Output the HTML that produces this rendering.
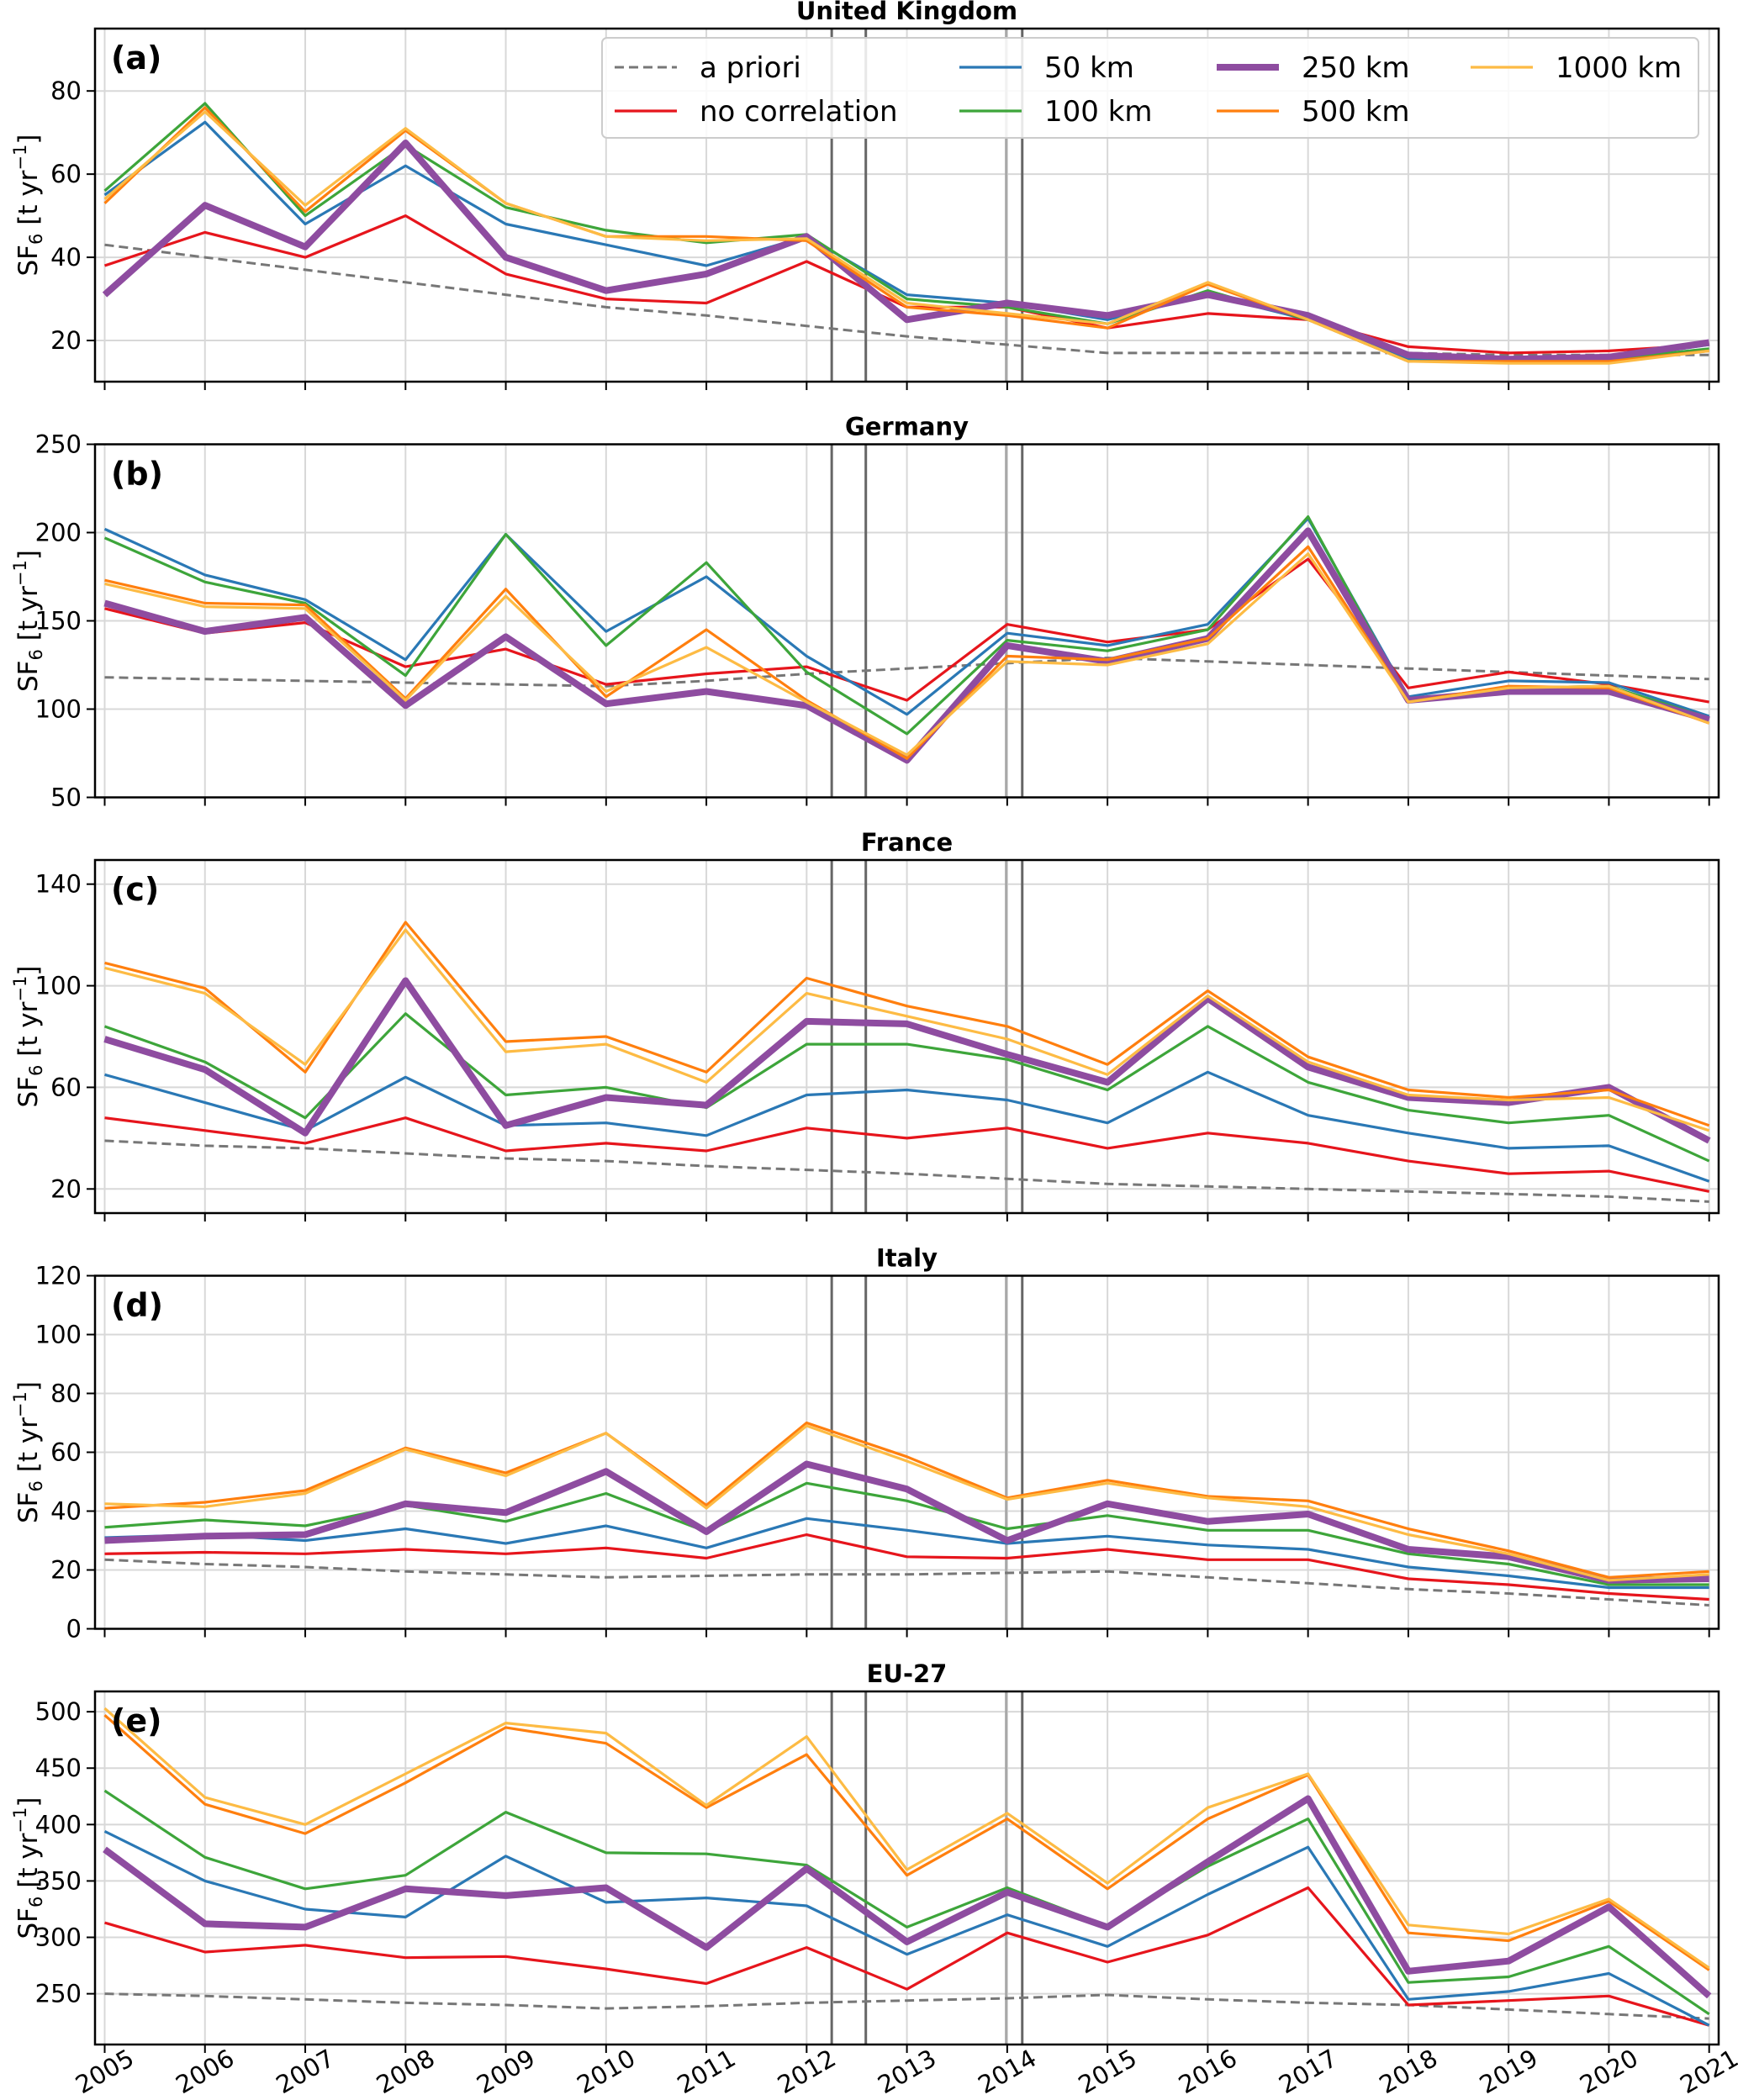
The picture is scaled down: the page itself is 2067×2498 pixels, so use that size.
<!DOCTYPE html>
<html><head><meta charset="utf-8">
<style>
html,body{margin:0;padding:0;background:#fff;}
svg{display:block;font-family:"DejaVu Sans","Liberation Sans",sans-serif;}
</style></head>
<body>
<svg id="chart" width="2067" height="2498" viewBox="0 0 2067 2498" xmlns="http://www.w3.org/2000/svg"></svg>
<script>
const years=[2005,2006,2007,2008,2009,2010,2011,2012,2013,2014,2015,2016,2017,2018,2019,2020,2021];
const seriesNames=["a priori","no correlation","50 km","100 km","250 km","500 km","1000 km"];
const panelTitles=["United Kingdom","Germany","France","Italy","EU-27"];
const panelLetters=["(a)","(b)","(c)","(d)","(e)"];
const yLimits=[[10.1,95],[50,250],[10.5,149.5],[0,120],[205,518]];
const yTicks=[[20,40,60,80],[50,100,150,200,250],[20,60,100,140],[0,20,40,60,80,100,120],[250,300,350,400,450,500]];
const vLineYears=[2012.25,2012.59,2013.99,2014.15];
const ukApriori=[43,40,37,34,31,28,26,23.5,21,19,17,17,17,17,16.5,16.5,16.5];
const ukNoCorr=[38,46,40,50,36,30,29,39,28,28,23,26.5,25,18.5,17,17.5,19];
const uk50=[55,72.5,48,62,48,43,38,45,31,29,25,31,25,15.5,15,15.5,19];
const uk100=[56,77,50,67,52,46.5,43.5,45.5,30,28,24,32,25,15,15,15.5,18];
const uk250=[31,52.5,42.5,67.5,40,32,36,45,25,29,26,31,26,16.5,15.5,16,19.5];
const uk500=[53,76,51,70.5,53,45,45,44,28,26,23,33.5,25,15,15,15,17.5];
const uk1000=[54,75,52.5,71,53,45,44,44.5,29,26.5,24,34,25,15,14.5,14.5,17.5];
const deApriori=[118,117,116,115,114,113,116,120,123,126,129,127,125,123,121,119,117];
const deNoCorr=[157,143,149,124,134,114,120,124,105,148,138,145,185,112,121,114,104];
const de50=[202,176,162,128,199,144,175,130,97,143,136,148,208,107,116,115,96];
const de100=[197,172,160,119,199,136,183,121,86,139,133,145,209,105,112,113,95];
const de250=[160,144,152,102,141,103,110,102,71,136,127,140,201,105,110,110,94];
const de500=[173,160,159,106,168,107,145,105,72,130,128,140,192,104,113,112,92];
const de1000=[171,158,157,105,164,110,135,104,74,127,125,137,188,104,112,113,92];
const frApriori=[39,37,36,34,32,31,29,27.5,26,24,22,21,20,19,18,17,15];
const frNoCorr=[48,43,38,48,35,38,35,44,40,44,36,42,38,31,26,27,19];
const fr50=[65,54,43,64,45,46,41,57,59,55,46,66,49,42,36,37,23];
const fr100=[84,70,48,89,57,60,52,77,77,71,59,84,62,51,46,49,31];
const fr250=[79,67,42,102,45,56,53,86,85,73,62,95,68,56,54,60,39];
const fr500=[109,99,66,125,78,80,66,103,92,84,69,98,72,59,56,59,45];
const fr1000=[107,97,69,122,74,77,62,97,88,79,65,96,70,57,55,56,43];
const itApriori=[23.5,22,21,19.5,18.5,17.5,18,18.5,18.5,19,19.5,17.5,15.5,13.5,12,10,8];
const itNoCorr=[25.5,26,25.5,27,25.5,27.5,24,32,24.5,24,27,23.5,23.5,17,15,12,10];
const it50=[31,32,30,34,29,35,27.5,37.5,33.5,29,31.5,28.5,27,21,18,14,14];
const it100=[34.5,37,35,42,36.5,46,33,49.5,43.5,34,38.5,33.5,33.5,25.5,22,15,15];
const it250=[30,31.5,32,42.5,39.5,53.5,33,56,47.5,30,42.5,36.5,39,27,24.5,16.5,17];
const it500=[41,43,47,61.5,53,66.5,42,70,58.5,44.5,50.5,45,43.5,34,26.5,17.5,19.5];
const it1000=[42.5,41.5,46,61,52,66.5,41,69,57,44,49.5,44.5,41.5,32,25.5,16.5,18.5];
const euApriori=[250,248,245,242,240,237,239,242,244,246,249,245,242,240,236,232,228];
const euNoCorr=[313,287,293,282,283,272,259,291,254,304,278,302,344,240,244,248,222];
const eu50=[394,350,325,318,372,331,335,328,285,320,292,338,380,245,252,268,222];
const eu100=[430,371,343,355,411,375,374,364,309,344,310,363,405,260,265,292,232];
const eu250=[378,312,309,343,337,344,291,361,296,340,309,367,423,270,279,327,248];
const eu500=[497,418,392,437,486,472,415,462,355,405,343,405,444,304,297,332,271];
const eu1000=[503,424,400,445,490,481,417,478,360,410,348,415,445,311,303,334,273];
const panelData=[
 [ukApriori,ukNoCorr,uk50,uk100,uk250,uk500,uk1000],
 [deApriori,deNoCorr,de50,de100,de250,de500,de1000],
 [frApriori,frNoCorr,fr50,fr100,fr250,fr500,fr1000],
 [itApriori,itNoCorr,it50,it100,it250,it500,it1000],
 [euApriori,euNoCorr,eu50,eu100,eu250,eu500,eu1000]];

const NS="http://www.w3.org/2000/svg";
const svg=document.getElementById("chart");
const colors=["#777777","#e6151c","#2a78b5","#3da53a","#8e4ca0","#ff7f0e","#fdbb44"];
const widths=[3,3.2,3.2,3.2,8,3.2,3.2];
const L=113,R=2044,PH=420,tops=[34,528.5,1023,1517.5,2012];
function xs(yr){return 124.5+(yr-2005)*((2032.7-124.5)/16);}
function el(tag,attrs,parent){const e=document.createElementNS(NS,tag);for(const k in attrs)e.setAttribute(k,attrs[k]);(parent||svg).appendChild(e);return e;}

panelData.forEach((data,p)=>{
  const top=tops[p],bot=top+PH,[y0,y1]=yLimits[p];
  const ys=v=>bot-(v-y0)/(y1-y0)*PH;
  const g=el("g",{});
  
  
  years.forEach(yr=>{const l=el("line",{x1:xs(yr),x2:xs(yr),y1:top,y2:bot,stroke:"#d8d8d8","stroke-width":2},g);
    
    const t=el("line",{x1:xs(yr),x2:xs(yr),y1:bot,y2:bot+10,stroke:"#000","stroke-width":2},g);
    });
  yTicks[p].forEach(v=>{const l=el("line",{x1:L,x2:R,y1:ys(v),y2:ys(v),stroke:"#d8d8d8","stroke-width":2},g);
    
    const t=el("line",{x1:L-10,x2:L,y1:ys(v),y2:ys(v),stroke:"#000","stroke-width":2},g);
    
    const tx=el("text",{x:L-16,y:ys(v)+10,"text-anchor":"end","font-size":29,fill:"#000"},g);
    tx.textContent=v;
    });
  vLineYears.forEach((vy,i)=>{const l=el("line",{x1:xs(vy),x2:xs(vy),y1:top,y2:bot,stroke:i==2?"#a8a8a8":"#666","stroke-width":3},g);
    });
  data.forEach((arr,s)=>{
    const pts=arr.map((v,i)=>xs(years[i]).toFixed(1)+","+ys(v).toFixed(1)).join(" ");
    const a={points:pts,fill:"none",stroke:colors[s],"stroke-width":widths[s],"stroke-linejoin":"round"};
    if(s==0)a["stroke-dasharray"]="11,6";
    const pl=el("polyline",a,g);
    
    
  });
  const fr=el("rect",{x:L,y:top,width:R-L,height:PH,fill:"none",stroke:"#000","stroke-width":2.5},g);
  
  const tt=el("text",{x:(L+R)/2,y:top-11,"text-anchor":"middle","font-size":29,"font-weight":"bold"},g);
  tt.textContent=panelTitles[p];
  
  const lt=el("text",{x:132,y:top+48,"font-size":38,"font-weight":"bold"},g);
  lt.textContent=panelLetters[p];
  
  const yl=el("text",{transform:"translate(44,"+(top+PH/2)+") rotate(-90)","text-anchor":"middle","font-size":31},g);
  yl.innerHTML='SF<tspan font-size="21" dy="6">6</tspan><tspan dy="-6"> [t yr</tspan><tspan font-size="21" dy="-13">−1</tspan><tspan dy="13">]</tspan>';
  
  if(p==4){years.forEach(yr=>{const x=xs(yr),y=bot+42;
    const t=el("text",{x:x,y:y,"text-anchor":"middle","font-size":29,transform:"rotate(-30 "+x+" "+(y-10)+")"},g);
    t.textContent=yr;
    });}
});
const lg=el("g",{});


const lb=el("rect",{x:716,y:45,width:1304,height:119,rx:6,fill:"#fff","fill-opacity":0.85,stroke:"#ccc","stroke-width":2},lg);

const legPos=[[0,0],[0,1],[1,0],[1,1],[2,0],[2,1],[3,0]];
const colX=[731,1141,1447,1749];
legPos.forEach((pos,s)=>{
  const x=colX[pos[0]],y=80+pos[1]*52;
  const a={x1:x,x2:x+74,y1:y,y2:y,stroke:colors[s],"stroke-width":widths[s]};
  if(s==0)a["stroke-dasharray"]="11,6";
  const l=el("line",a,lg);
  
  const t=el("text",{x:x+101,y:y+12,"font-size":34},lg);
  t.textContent=seriesNames[s];
  
});
</script>
</body></html>
